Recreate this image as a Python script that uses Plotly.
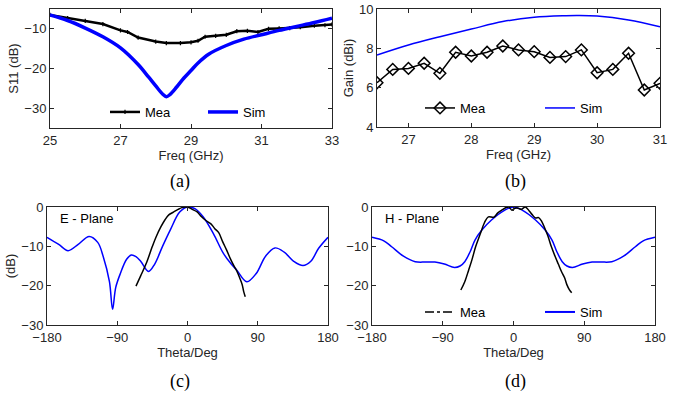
import plotly.graph_objects as go

# ---------------- data ----------------
# (a) S11
s11_freq_mea = [25.0, 25.5, 26.0, 26.5, 27.0, 27.2, 27.5, 28.0, 28.3, 28.7, 29.0, 29.2, 29.4,
                29.7, 30.0, 30.3, 30.6, 30.9, 31.2, 31.5, 31.8, 32.1, 32.5, 32.8, 33.0]
s11_mea = [-6.5, -7.3, -8.0, -8.8, -10.4, -10.8, -12.2, -13.2, -13.6, -13.6, -13.4, -13.0, -12.0,
           -11.8, -11.5, -10.6, -10.5, -10.8, -10.0, -9.9, -9.8, -9.6, -9.2, -9.1, -8.9]
s11_freq_sim = [25.0, 25.5, 26.0, 26.5, 27.0, 27.5, 27.8, 28.0, 28.2, 28.3, 28.4, 28.6, 28.8,
                29.0, 29.2, 29.5, 30.0, 30.5, 31.0, 31.5, 32.0, 32.5, 33.0]
s11_sim = [-6.5, -7.9, -9.8, -12.0, -14.8, -19.0, -22.2, -24.4, -26.5, -27.1, -26.6, -24.6, -22.4,
           -20.5, -18.6, -16.4, -14.2, -12.6, -11.5, -10.4, -9.4, -8.4, -7.3]

# (b) Gain
gain_freq_mea = [26.5, 26.75, 27.0, 27.25, 27.5, 27.75, 28.0, 28.25, 28.5, 28.75,
                 29.0, 29.25, 29.5, 29.75, 30.0, 30.25, 30.5, 30.75, 31.0]
gain_mea = [6.25, 6.93, 6.98, 7.24, 6.73, 7.80, 7.61, 7.80, 8.12, 7.92,
            7.83, 7.54, 7.58, 7.92, 6.76, 6.93, 7.75, 5.88, 6.22]
gain_freq_sim = [26.5, 27.0, 27.5, 28.0, 28.5, 29.0, 29.5, 29.7, 30.0, 30.5, 31.0]
gain_sim = [7.66, 8.17, 8.59, 8.98, 9.36, 9.58, 9.66, 9.67, 9.64, 9.44, 9.10]

# (c) E-plane
e_theta_sim = [-180, -165, -153, -140, -126, -115, -108, -100, -96, -92, -86, -78, -72, -66, -60,
               -50, -42, -32, -22, -10, 0, 10, 20, 33, 46, 56, 63, 76, 88, 100, 112, 124, 136,
               148, 158, 168, 180]
e_sim = [-7.7, -9.5, -11.1, -9.5, -7.5, -9.0, -12.6, -19.0, -26.0, -20.5, -16.9, -13.3, -12.2,
         -12.6, -13.8, -16.4, -14.5, -10.0, -5.8, -1.3, 0.0, -0.5, -2.5, -6.7, -11.8, -14.5,
         -16.0, -19.0, -16.9, -12.5, -10.4, -11.5, -13.8, -14.9, -13.8, -10.5, -7.7]
e_theta_mea = [-66, -60, -52, -45, -40, -34, -29, -24, -18, -12, -6, 0, 6, 12, 18, 24, 30, 35,
               40, 45, 50, 55, 59, 63, 67, 70, 72, 74]
e_mea = [-20.1, -17.5, -13.9, -10.0, -7.5, -5.0, -3.3, -2.0, -1.3, -0.6, -0.1, 0.0, -0.6, -1.2,
         -2.5, -3.5, -4.3, -5.5, -6.5, -8.8, -10.9, -13.2, -14.8, -16.2, -18.1, -19.7, -21.5, -22.8]

# (d) H-plane
h_theta_sim = [-180, -165, -155, -140, -125, -112, -100, -88, -75, -68, -62, -55, -49, -40, -28,
               -11, 0, 11, 28, 40, 49, 55, 62, 68, 75, 88, 100, 112, 125, 140, 155, 165, 180]
h_sim = [-7.7, -8.6, -10.1, -12.5, -13.9, -14.0, -14.0, -14.5, -15.4, -15.0, -13.9, -11.3, -8.4,
         -5.8, -3.3, -0.8, 0.0, -0.8, -3.3, -5.8, -8.4, -11.3, -13.9, -15.0, -15.4, -14.5, -14.0,
         -14.0, -13.9, -12.5, -10.1, -8.6, -7.7]
h_theta_mea = [-67, -62, -57, -53, -48, -42, -37, -32, -25, -20, -15, -10, -6, -2, 2, 6, 10, 15,
               20, 24, 28, 32, 36, 40, 44, 48, 53, 57, 61, 65, 68, 71, 74]
h_mea = [-21.1, -19.0, -16.0, -13.5, -10.0, -6.7, -4.0, -2.5, -2.6, -1.5, -0.8, -0.2, 0.0, -0.8,
         -0.3, -0.3, -0.6, 0.0, -1.0, -2.0, -2.8, -2.7, -3.7, -5.5, -7.5, -10.0, -12.6, -14.5,
         -16.4, -18.0, -19.8, -21.0, -21.8]

# tick values
s11_xticks = [25, 27, 29, 31, 33]
s11_yticks = [-30, -20, -10]
gain_xticks = [27, 28, 29, 30, 31]
gain_yticks = [4, 6, 8, 10]
theta_ticks = [-180, -90, 0, 90, 180]
pattern_yticks = [-30, -20, -10, 0]

# ---------------- figure ----------------
W, H = 684, 397
BLUE = "#0000FF"
BLACK = "#000000"
AX = "#262626"
SANS = "Arial, Liberation Sans, sans-serif"
SERIF = "Times New Roman, Liberation Serif, serif"


def px(p):
    return p / W


def py(p):
    return 1 - p / H


def dx(a, b):
    return [px(a), px(b)]


def dy(top, bottom):
    return [py(bottom), py(top)]


fig = go.Figure()

# (a)
fig.add_trace(go.Scatter(x=s11_freq_mea, y=s11_mea, name="Mea", mode="lines+markers",
                         line=dict(color=BLACK, width=2.5),
                         marker=dict(symbol="cross-thin", size=3, line=dict(color=BLACK, width=1.2)),
                         xaxis="x", yaxis="y", legend="legend"))
fig.add_trace(go.Scatter(x=s11_freq_sim, y=s11_sim, name="Sim", mode="lines",
                         line=dict(color=BLUE, width=3.5), line_shape="spline",
                         xaxis="x", yaxis="y", legend="legend"))
# (b)
fig.add_trace(go.Scatter(x=gain_freq_mea, y=gain_mea, name="Mea", mode="lines+markers",
                         line=dict(color=BLACK, width=1.5),
                         marker=dict(symbol="diamond-open", size=9, color=BLACK, line=dict(width=1.5)),
                         xaxis="x2", yaxis="y2", legend="legend2"))
fig.add_trace(go.Scatter(x=gain_freq_sim, y=gain_sim, name="Sim", mode="lines",
                         line=dict(color=BLUE, width=1.5), line_shape="spline",
                         xaxis="x2", yaxis="y2", legend="legend2"))
# (c)
fig.add_trace(go.Scatter(x=e_theta_sim, y=e_sim, name="Sim", mode="lines",
                         line=dict(color=BLUE, width=1.5), line_shape="spline",
                         xaxis="x3", yaxis="y3", showlegend=False))
fig.add_trace(go.Scatter(x=e_theta_mea, y=e_mea, name="Mea", mode="lines",
                         line=dict(color=BLACK, width=1.5), line_shape="spline",
                         xaxis="x3", yaxis="y3", showlegend=False))
# (d)
fig.add_trace(go.Scatter(x=h_theta_sim, y=h_sim, name="Sim", mode="lines",
                         line=dict(color=BLUE, width=1.5), line_shape="spline",
                         xaxis="x4", yaxis="y4", showlegend=False))
fig.add_trace(go.Scatter(x=h_theta_mea, y=h_mea, name="Mea", mode="lines",
                         line=dict(color=BLACK, width=1.5), line_shape="spline",
                         xaxis="x4", yaxis="y4", showlegend=False))
# legend entries for (d)
fig.add_trace(go.Scatter(x=[None], y=[None], name="Mea", mode="lines",
                         line=dict(color=BLACK, width=1.5, dash="dashdot"),
                         xaxis="x4", yaxis="y4", legend="legend3"))
fig.add_trace(go.Scatter(x=[None], y=[None], name="Sim", mode="lines",
                         line=dict(color=BLUE, width=2),
                         xaxis="x4", yaxis="y4", legend="legend3"))

axis_common = dict(showline=True, linecolor=AX, linewidth=1, mirror="ticks", ticks="inside",
                   ticklen=4, tickcolor=AX, showgrid=False, zeroline=False, automargin=False,
                   tickfont=dict(family=SANS, size=13, color=AX))
title_font = dict(family=SANS, size=13, color=AX)

fig.update_layout(
    width=W, height=H, margin=dict(l=0, r=0, t=0, b=0, autoexpand=False),
    paper_bgcolor="white", plot_bgcolor="white",
    xaxis=dict(domain=dx(50, 332), range=[25, 33], tickvals=s11_xticks, anchor="y",
               title=dict(text="Freq (GHz)", font=title_font, standoff=0), **axis_common),
    yaxis=dict(domain=dy(9, 128), range=[-35, -5], tickvals=s11_yticks, anchor="x",
               title=dict(text="S11 (dB)", font=title_font, standoff=2), **axis_common),
    xaxis2=dict(domain=dx(377, 660), range=[26.5, 31], tickvals=gain_xticks, anchor="y2",
                title=dict(text="Freq (GHz)", font=title_font, standoff=0), **axis_common),
    yaxis2=dict(domain=dy(9, 127), range=[4, 10], tickvals=gain_yticks, anchor="x2",
                title=dict(text="Gain (dBi)", font=title_font, standoff=2), **axis_common),
    xaxis3=dict(domain=dx(47, 328), range=[-180, 180], tickvals=theta_ticks, anchor="y3",
                title=dict(text="Theta/Deg", font=title_font, standoff=0), **axis_common),
    yaxis3=dict(domain=dy(207, 325), range=[-30, 0], tickvals=pattern_yticks, anchor="x3",
                title=dict(text="(dB)", font=title_font, standoff=2), **axis_common),
    xaxis4=dict(domain=dx(372, 655), range=[-180, 180], tickvals=theta_ticks, anchor="y4",
                title=dict(text="Theta/Deg", font=title_font, standoff=0), **axis_common),
    yaxis4=dict(domain=dy(207, 325), range=[-30, 0], tickvals=pattern_yticks, anchor="x4",
                **axis_common),
    legend=dict(x=px(105), y=py(112), xanchor="left", yanchor="middle", orientation="h",
                bgcolor="rgba(0,0,0,0)", font=dict(family=SANS, size=13, color=BLACK),
                entrywidth=53, entrywidthmode="pixels", itemwidth=30),
    legend2=dict(x=px(420), y=py(108), xanchor="left", yanchor="middle", orientation="h",
                 bgcolor="rgba(0,0,0,0)", font=dict(family=SANS, size=13, color=BLACK),
                 entrywidth=75, entrywidthmode="pixels", itemwidth=30),
    legend3=dict(x=px(420), y=py(312), xanchor="left", yanchor="middle", orientation="h",
                 bgcolor="rgba(0,0,0,0)", font=dict(family=SANS, size=13, color=BLACK),
                 entrywidth=75, entrywidthmode="pixels", itemwidth=30),
    annotations=[
        dict(text="E - Plane", x=px(58), y=py(218), xref="paper", yref="paper",
             xanchor="left", yanchor="middle", showarrow=False,
             font=dict(family=SANS, size=13, color=BLACK)),
        dict(text="H - Plane", x=px(383), y=py(218), xref="paper", yref="paper",
             xanchor="left", yanchor="middle", showarrow=False,
             font=dict(family=SANS, size=13, color=BLACK)),
        dict(text="(a)", x=px(180), y=py(181), xref="paper", yref="paper",
             xanchor="center", yanchor="middle", showarrow=False,
             font=dict(family=SERIF, size=18, color=BLACK)),
        dict(text="(b)", x=px(515), y=py(181), xref="paper", yref="paper",
             xanchor="center", yanchor="middle", showarrow=False,
             font=dict(family=SERIF, size=18, color=BLACK)),
        dict(text="(c)", x=px(180), y=py(381), xref="paper", yref="paper",
             xanchor="center", yanchor="middle", showarrow=False,
             font=dict(family=SERIF, size=18, color=BLACK)),
        dict(text="(d)", x=px(515), y=py(381), xref="paper", yref="paper",
             xanchor="center", yanchor="middle", showarrow=False,
             font=dict(family=SERIF, size=18, color=BLACK)),
    ],
)

# remove the browser's default 8 px body margin so the figure fills the window,
# and hide the interactive toolbar
fig.write_html("out.html", config={"displayModeBar": False},
               post_script="document.body.style.margin='0';")
